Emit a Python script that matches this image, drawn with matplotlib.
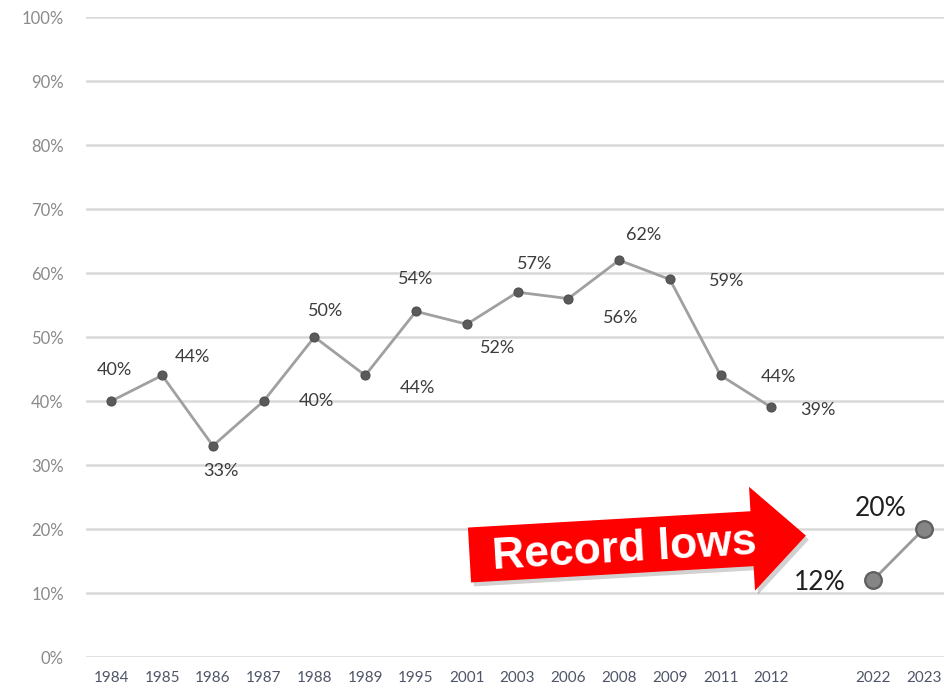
import numpy as np
import matplotlib
matplotlib.use("Agg")
import matplotlib.pyplot as plt
from matplotlib.patches import Polygon

# Survey share by year; the blank slot separates the 2012 and 2022 surveys
years = ["1984", "1985", "1986", "1987", "1988", "1989", "1995", "2001",
         "2003", "2006", "2008", "2009", "2011", "2012", "", "2022", "2023"]
history = [40, 44, 33, 40, 50, 44, 54, 52, 57, 56, 62, 59, 44, 39, None, None, None]
recent = [None] * 15 + [12, 20]
y_ticks = [0, 10, 20, 30, 40, 50, 60, 70, 80, 90, 100]
callout = "Record lows"

# label placement (offset in points, alignment) for the historical points
hist_offsets = [(2, 22, "center"), (22, 13, "center"), (6, -18, "center"),
                (25, 0, "left"), (8, 19, "center"), (25, -9, "left"),
                (0, 23, "center"), (22, -17, "center"), (12, 20, "center"),
                (25, -14, "left"), (18, 18, "center"), (28, -1, "left"),
                (29, -1, "left"), (21, -2, "left"), None, None, None]

W, H = 944, 690
fig = plt.figure(figsize=(W / 100, H / 100), dpi=100)
ax = fig.add_axes([86 / W, 33 / H, (W - 86) / W, 640 / H])

x = np.arange(len(years))
h = np.array([np.nan if v is None else v for v in history], dtype=float)
r = np.array([np.nan if v is None else v for v in recent], dtype=float)

for t in y_ticks:
    ax.axhline(t, color="#d9d9d9", lw=1.8, zorder=0)

ax.plot(x, h, color="#a0a0a0", lw=2.0, zorder=2)
ax.plot(x, h, "o", color="#5a5a5a", ms=6.5, mec="#4d4d4d", mew=0.8, zorder=3)
ax.plot(x, r, color="#9a9a9a", lw=2.0, zorder=2)
ax.plot(x, r, "o", color="#858585", ms=12, mec="#5e5e5e", mew=1.6, zorder=3,
        clip_on=False)

label_font = dict(family="Lato", fontsize=13, color="#3c3c3c")
for xi, v, off in zip(x, history, hist_offsets):
    if v is None:
        continue
    dx, dy, ha = off
    ax.annotate(f"{v}%", (xi, v), xytext=(dx, dy), textcoords="offset points",
                ha=ha, va="center", **label_font)

big_font = dict(family="Lato", fontsize=19, color="#202020")
ax.annotate(f"{recent[15]}%", (15, recent[15]), xytext=(-38, -2),
            textcoords="offset points", ha="center", va="center", **big_font)
ax.annotate(f"{recent[16]}%", (16, recent[16]), xytext=(-31, 15),
            textcoords="offset points", ha="center", va="center", **big_font)

ax.set_xlim(-0.5, 16.4)
ax.set_ylim(0, 100)
ax.set_xticks(x)
ax.set_xticklabels(years, family="Lato", fontsize=11, color="#4f5568")
ax.set_yticks(y_ticks)
ax.set_yticklabels([f"{t}%" for t in y_ticks], family="Lato", fontsize=12,
                   color="#8a8a8a")
ax.tick_params(axis="both", length=0)
ax.tick_params(axis="x", pad=10)
ax.tick_params(axis="y", pad=16)
for s in ax.spines.values():
    s.set_visible(False)

# red block arrow (pixel geometry, rotated slightly upward)
ang = np.deg2rad(3.3)
tail = np.array([469.5, 555.0])
length, half_body, half_head, head_len = 337, 27.5, 52, 54
shape = np.array([
    [0, -half_body], [length - head_len, -half_body], [length - head_len, -half_head],
    [length, 0], [length - head_len, half_head], [length - head_len, half_body],
    [0, half_body]])
rot = np.array([[np.cos(ang), np.sin(ang)], [-np.sin(ang), np.cos(ang)]])
pts = shape @ rot.T + tail


def to_fig(p):
    return np.column_stack([p[:, 0] / W, 1 - p[:, 1] / H])


fig.patches.append(Polygon(to_fig(pts + [3, 4]), closed=True, fc="#000000",
                           alpha=0.18, ec="none", transform=fig.transFigure,
                           zorder=4))
fig.patches.append(Polygon(to_fig(pts), closed=True, fc="#ff0000", ec="none",
                           transform=fig.transFigure, zorder=5))
fig.text(624 / W, 1 - 550 / H, callout, family="Liberation Sans",
         fontweight="bold", fontsize=32, color="white", ha="center",
         va="center", rotation=3.3, rotation_mode="anchor", zorder=6)

fig.savefig("out.png", dpi=100)
